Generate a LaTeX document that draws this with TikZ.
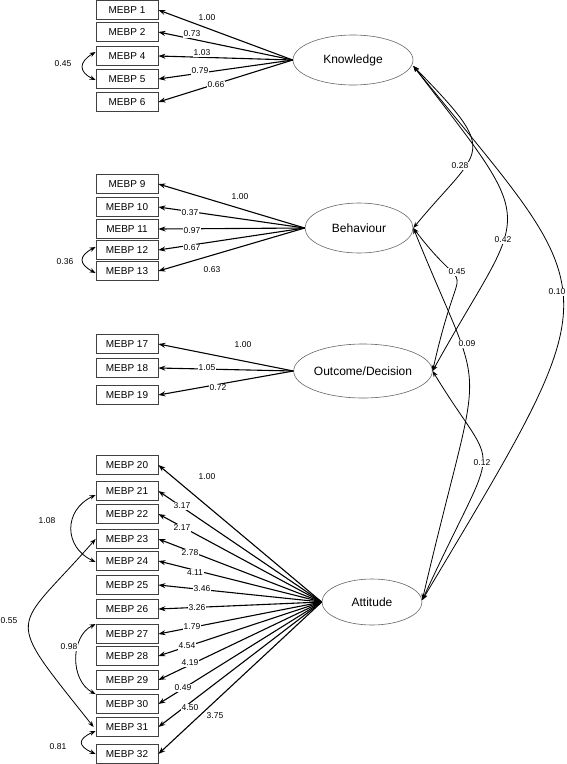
\documentclass[tikz,border=0pt]{standalone}
\usepackage{fontspec}
\setmainfont{Liberation Sans}
\usetikzlibrary{shapes.geometric,arrows.meta,calc}
\tikzset{
  obs/.style={draw=black!75, line width=0.8pt, minimum width=62pt, minimum height=19pt, inner sep=0pt, font=\fontsize{10}{12}\selectfont},
  lat/.style={ellipse, draw=black!60, line width=0.6pt, inner sep=0pt, font=\fontsize{12}{14}\selectfont},
  reg/.style={line width=1.1pt, -{Stealth[length=7pt,width=5pt]}},
  cov/.style={line width=0.8pt, {Stealth[length=6pt,width=4.5pt]}-{Stealth[length=6pt,width=4.5pt]}},
  coef/.style={fill=white, inner sep=1pt, font=\fontsize{8.5}{10}\selectfont},
}
\begin{document}
\begin{tikzpicture}[x=1pt,y=-1pt]
\useasboundingbox (0,0) rectangle (567,764);
% latent variables
\node[lat, minimum width=120pt, minimum height=50pt] (kn) at (353,60) {Knowledge};
\node[lat, minimum width=108pt, minimum height=50pt] (bh) at (359,228) {Behaviour};
\node[lat, minimum width=112pt, minimum height=54pt] (oc) at (363,371) {Outcome/Decision};
\node[lat, minimum width=100pt, minimum height=46pt] (at) at (372,602) {Attitude};
% observed variables
\node[obs] (b1) at (127,10) {MEBP 1};
\node[obs] (b2) at (127,32) {MEBP 2};
\node[obs] (b4) at (127,56) {MEBP 4};
\node[obs] (b5) at (127,79) {MEBP 5};
\node[obs] (b6) at (127,102) {MEBP 6};
\node[obs] (b9) at (127,184) {MEBP 9};
\node[obs] (b10) at (127,207) {MEBP 10};
\node[obs] (b11) at (127,229) {MEBP 11};
\node[obs] (b12) at (127,250) {MEBP 12};
\node[obs] (b13) at (127,271) {MEBP 13};
\node[obs] (b17) at (127,344) {MEBP 17};
\node[obs] (b18) at (127,368) {MEBP 18};
\node[obs] (b19) at (127,395) {MEBP 19};
\node[obs] (b20) at (127,465) {MEBP 20};
\node[obs] (b21) at (127,491) {MEBP 21};
\node[obs] (b22) at (127,514) {MEBP 22};
\node[obs] (b23) at (127,539) {MEBP 23};
\node[obs] (b24) at (127,561) {MEBP 24};
\node[obs] (b25) at (127,585) {MEBP 25};
\node[obs] (b26) at (127,609) {MEBP 26};
\node[obs] (b27) at (127,634) {MEBP 27};
\node[obs] (b28) at (127,656) {MEBP 28};
\node[obs] (b29) at (127,680) {MEBP 29};
\node[obs] (b30) at (127,704) {MEBP 30};
\node[obs] (b31) at (127,727) {MEBP 31};
\node[obs] (b32) at (127,754) {MEBP 32};
% regressions
\foreach \b in {b1,b2,b4,b5,b6} \draw[reg] (kn.west) -- (\b.east);
\foreach \b in {b9,b10,b11,b12,b13} \draw[reg] (bh.west) -- (\b.east);
\foreach \b in {b17,b18,b19} \draw[reg] (oc.west) -- (\b.east);
\foreach \b in {b20,b21,b22,b23,b24,b25,b26,b27,b28,b29,b30,b31,b32} \draw[reg] (at.west) -- (\b.east);
% latent covariances
\coordinate (kR) at ([yshift=-6pt]kn.east);
\coordinate (bR) at (bh.east);
\coordinate (oR) at (oc.east);
\coordinate (aR) at ([yshift=2pt]at.east);
\draw[cov] (kR) .. controls (502,157) and (481,146) .. (bR);
\draw[cov] (kR) .. controls (544,236) and (526,202) .. (oR);
\draw[cov] (kR) .. controls (606,304) and (617,274) .. (aR);
\draw[cov] (bR) .. controls (474,308) and (462,240) .. (oR);
\draw[cov] (bR) .. controls (489,415) and (484,336) .. (aR);
\draw[cov] (oR) .. controls (500,482) and (502,427) .. (aR);
% error covariances
\draw[cov] ([yshift=4pt]b4.west) .. controls +(-17,10) and +(-17,-8) .. ([yshift=-1pt]b5.west);
\draw[cov] ([yshift=3pt]b12.west) .. controls +(-17,9) and +(-17,-9) .. ([yshift=-2pt]b13.west);
\draw[cov] ([yshift=-4pt]b21.west) .. controls +(-32,15) and +(-32,-15) .. ([yshift=-1pt]b24.west);
\draw[cov] (b23.west) .. controls +(-83,95) and +(-92,-116) .. ([xshift=-2pt]b31.west);
\draw[cov] (b27.north west) .. controls +(-25,12) and +(-26,-14) .. (b30.north west);
\draw[cov] ([yshift=-4pt]b31.west) .. controls +(-18,8) and +(-18,-8) .. (b32.west);
% coefficients
\node[coef] (c1) at (207,18) {1.00};
\node[coef] (c2) at (192,34) {0.73};
\node[coef] (c4) at (202,53) {1.03};
\node[coef] (c5) at (200,71) {0.79};
\node[coef] (c6) at (216,85) {0.66};
\node[coef] (c9) at (240,197) {1.00};
\node[coef] (c10) at (190,213) {0.37};
\node[coef] (c11) at (192,231) {0.97};
\node[coef] (c12) at (192,248) {0.67};
\node[coef] (c13) at (212,270) {0.63};
\node[coef] (c17) at (243,345) {1.00};
\node[coef] (c18) at (207,368) {1.05};
\node[coef] (c19) at (218,388) {0.72};
\node[coef] (c20) at (207,477) {1.00};
\node[coef] (c21) at (182,506) {3.17};
\node[coef] (c22) at (182,528) {2.17};
\node[coef] (c23) at (190,553) {2.78};
\node[coef] (c24) at (195,573) {4.11};
\node[coef] (c25) at (202,589) {3.46};
\node[coef] (c26) at (197,608) {3.26};
\node[coef] (c27) at (192,627) {1.79};
\node[coef] (c28) at (187,646) {4.54};
\node[coef] (c29) at (190,663) {4.19};
\node[coef] (c30) at (183,688) {0.49};
\node[coef] (c31) at (190,708) {4.50};
\node[coef] (c32) at (215,716) {3.75};
\node[coef] (kb) at (460,166) {0.28};
\node[coef] (ko) at (503,240) {0.42};
\node[coef] (ka) at (557,292) {0.10};
\node[coef] (bo) at (457,272) {0.45};
\node[coef] (ba) at (467,344) {0.09};
\node[coef] (oa) at (482,463) {0.12};
\node[coef] (e45) at (63,64) {0.45};
\node[coef] (e1213) at (65,262) {0.36};
\node[coef] (e2124) at (47,521) {1.08};
\node[coef] (e2331) at (9,621) {0.55};
\node[coef] (e2730) at (69,647) {0.98};
\node[coef] (e3132) at (58,747) {0.81};
\end{tikzpicture}
\end{document}
